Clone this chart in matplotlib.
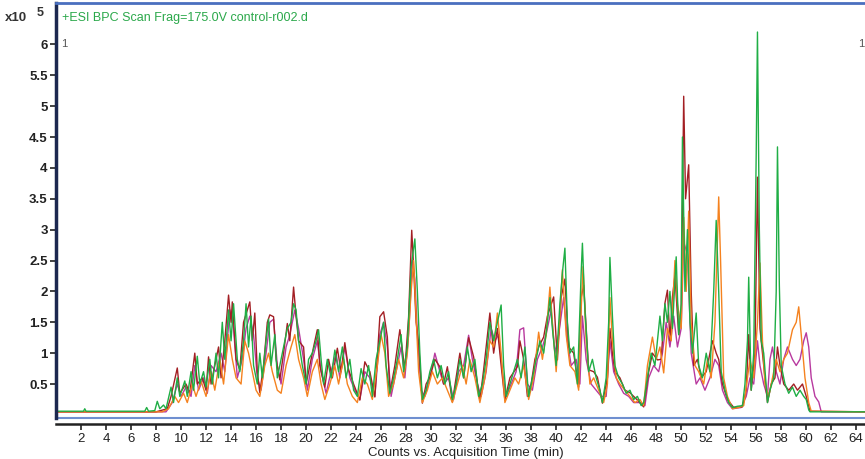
import numpy as np
import matplotlib.pyplot as plt

plt.rcParams['font.family'] = ['Liberation Sans', 'DejaVu Sans']

# Base peak chromatograms (time in min, counts in units of 1e5)
t_green = [0, 2.2, 2.3, 2.4, 7.1, 7.25, 7.4, 7.9, 8.1, 8.3, 8.6, 8.8, 9.2, 9.4, 9.7, 9.9,
           10.3, 10.5, 10.8, 11.0, 11.3, 11.5, 11.8, 12.0, 12.3, 12.5, 12.8, 13.0, 13.3,
           13.5, 13.8, 14.0, 14.2, 14.5, 14.7, 15.0, 15.2, 15.4, 15.6, 15.8, 16.1, 16.3,
           16.5, 16.8, 17.0, 17.2, 17.5, 17.7, 18.0, 18.3, 18.5, 18.8, 19.0, 19.2, 19.4,
           19.7, 20.0, 20.2, 20.5, 20.8, 21.0, 21.2, 21.4, 21.7, 22.0, 22.3, 22.6, 22.9,
           23.2, 23.5, 23.8, 24.1, 24.4, 24.7, 25.0, 25.3, 25.6, 25.9, 26.2, 26.4, 26.7,
           27.0, 27.3, 27.6, 27.8, 28.1, 28.4, 28.7, 28.9, 29.1, 29.3, 29.6, 29.9, 30.2,
           30.5, 30.8, 31.1, 31.4, 31.7, 32.0, 32.3, 32.6, 32.9, 33.2, 33.5, 33.8, 34.1,
           34.4, 34.7, 35.0, 35.3, 35.6, 35.8, 36.0, 36.3, 36.6, 36.9, 37.2, 37.5, 37.8,
           38.1, 38.4, 38.7, 39.0, 39.3, 39.5, 39.7, 40.0, 40.3, 40.5, 40.7, 40.9, 41.1,
           41.4, 41.7, 42.0, 42.1, 42.3, 42.6, 42.9, 43.2, 43.5, 43.7, 44.0, 44.2, 44.3,
           44.5, 44.7, 45.0, 45.3, 45.6, 45.9, 46.2, 46.5, 46.8, 47.0, 47.3, 47.6, 47.9,
           48.1, 48.3, 48.5, 48.7, 48.9, 49.1, 49.3, 49.6, 49.8, 50.0, 50.1, 50.3, 50.5,
           50.7, 50.9, 51.2, 51.4, 51.7, 52.0, 52.3, 52.6, 52.8, 53.0, 53.2, 53.5, 53.8,
           54.1, 54.5, 54.9, 55.1, 55.3, 55.4, 55.6, 55.8, 56.0, 56.1, 56.25, 56.4, 56.6,
           56.9, 57.1, 57.4, 57.6, 57.7, 57.85, 58.0, 58.3, 58.6, 58.9, 59.2, 59.5, 59.8,
           60.0, 60.2, 60.3, 64.7]
y_green = [0.06, 0.06, 0.1, 0.06, 0.06, 0.12, 0.06, 0.07, 0.22, 0.1, 0.16, 0.1, 0.45, 0.2,
           0.6, 0.3, 0.55, 0.3, 0.7, 0.4, 0.95, 0.5, 0.7, 0.45, 0.9, 0.5, 1.0, 0.6, 1.5,
           0.9, 1.7, 1.2, 1.8, 0.9, 0.7, 1.2, 1.8, 1.1, 1.6, 0.8, 0.5, 1.0, 0.6, 1.2, 1.55,
           0.8, 1.3, 0.6, 0.9, 1.2, 1.4, 1.5, 1.8, 1.7, 1.2, 0.8, 0.5, 0.9, 1.0, 1.2, 1.38,
           0.9, 0.5, 0.9, 0.6, 1.05, 0.7, 1.1, 0.6, 0.9, 0.4, 0.3, 0.75, 0.5, 0.8, 0.3, 0.9,
           1.2, 1.5, 0.8, 0.35, 0.6, 0.9, 1.3, 0.7, 1.1, 2.4, 2.85, 2.0, 1.0, 0.25, 0.4, 0.7,
           0.9, 0.6, 0.8, 0.5, 0.7, 0.25, 0.5, 0.9, 0.6, 1.1, 0.7, 0.9, 0.3, 0.5, 0.9, 1.5,
           1.2, 1.5, 1.78, 0.8, 0.3, 0.5, 0.7, 0.9, 0.6, 1.1, 0.3, 0.6, 0.9, 1.2, 1.0, 1.5,
           1.9, 1.4, 0.8, 1.8, 2.3, 2.7, 1.5, 1.0, 1.1, 0.5, 2.3, 2.78, 1.7, 0.7, 0.9, 0.6,
           0.4, 0.2, 0.6, 1.5, 2.55, 1.6, 0.8, 0.6, 0.5, 0.35, 0.4, 0.25, 0.3, 0.15, 0.2,
           0.6, 1.0, 0.8, 1.2, 1.6, 1.2, 1.8, 1.5, 2.0, 1.4, 2.56, 1.3, 1.8, 4.5, 2.0, 3.0,
           1.5, 1.0, 1.65, 0.8, 0.6, 1.0, 0.7, 2.0, 3.15, 2.0, 0.7, 0.4, 0.2, 0.12, 0.14,
           0.15, 0.5, 1.2, 2.23, 0.4, 1.0, 4.24, 6.2, 3.0, 1.2, 1.0, 0.2, 0.4, 0.6, 2.0,
           4.34, 2.1, 0.8, 0.5, 0.35, 0.45, 0.3, 0.4, 0.3, 0.25, 0.08, 0.05, 0.05]

t_red = [0, 8.0, 8.9, 9.2, 9.7, 9.9, 10.4, 10.7, 11.1, 11.3, 11.7, 12.0, 12.2, 12.4, 12.7,
         13.0, 13.2, 13.5, 13.8, 14.0, 14.1, 14.4, 14.7, 15.0, 15.3, 15.5, 15.7, 15.9, 16.1,
         16.3, 16.6, 16.9, 17.1, 17.4, 17.6, 17.9, 18.2, 18.5, 18.7, 19.0, 19.2, 19.4, 19.8,
         20.0, 20.3, 20.6, 20.9, 21.1, 21.5, 21.8, 22.1, 22.5, 22.8, 23.1, 23.4, 23.8, 24.3,
         24.7, 25.1, 25.5, 25.9, 26.2, 26.5, 26.7, 27.1, 27.5, 27.9, 28.2, 28.45, 28.6,
         28.8, 29.0, 29.3, 29.6, 29.9, 30.3, 30.7, 31.0, 31.3, 31.7, 32.0, 32.3, 32.6, 33.0,
         33.4, 33.9, 34.2, 34.7, 35.0, 35.3, 35.6, 35.9, 36.3, 36.9, 37.1, 37.4, 37.7, 38.0,
         38.3, 38.6, 39.0, 39.3, 39.8, 40.1, 40.4, 40.7, 41.0, 41.4, 41.8, 42.0, 42.2, 42.6,
         43.0, 43.3, 43.7, 44.1, 44.3, 44.5, 44.7, 45.1, 45.5, 45.9, 46.5, 47.0, 47.4, 47.7,
         48.1, 48.4, 48.7, 48.9, 49.1, 49.3, 49.5, 49.8, 50.0, 50.2, 50.35, 50.6, 50.8,
         51.0, 51.3, 51.6, 52.0, 52.5, 52.8, 53.0, 53.3, 53.7, 54.2, 54.9, 55.2, 55.4, 55.6,
         55.9, 56.1, 56.3, 56.6, 56.9, 57.2, 57.5, 57.7, 57.9, 58.2, 58.6, 59.0, 59.3, 59.7,
         60.0, 60.3, 64.7]
y_red = [0.05, 0.05, 0.1, 0.3, 0.76, 0.35, 0.5, 0.35, 1.0, 0.5, 0.6, 0.4, 0.94, 0.5, 0.8,
         1.1, 0.6, 1.2, 1.94, 1.5, 1.83, 0.9, 0.73, 1.5, 1.7, 1.83, 1.2, 1.65, 0.7, 0.36,
         0.8, 1.5, 1.62, 1.59, 0.9, 0.57, 1.0, 1.48, 1.2, 2.07, 1.6, 1.2, 1.1, 0.5, 0.8,
         1.1, 1.38, 0.8, 0.45, 0.9, 0.6, 1.08, 0.7, 1.17, 0.73, 0.5, 0.24, 0.86, 0.7, 0.29,
         1.59, 1.67, 1.26, 0.36, 0.8, 1.38, 0.73, 1.59, 2.99, 2.4, 1.5, 1.17, 0.19, 0.5,
         0.61, 0.9, 0.78, 0.5, 0.78, 0.21, 0.6, 1.0, 0.6, 1.25, 0.94, 0.24, 0.73, 1.65, 1.0,
         1.4, 0.8, 0.24, 0.6, 0.78, 1.2, 0.9, 0.3, 0.5, 0.9, 1.1, 1.26, 1.6, 1.91, 0.89,
         1.9, 2.2, 1.1, 1.0, 0.45, 1.9, 2.1, 0.73, 0.7, 0.61, 0.19, 0.6, 1.4, 1.0, 0.7, 0.6,
         0.4, 0.36, 0.24, 0.13, 0.7, 1.0, 0.89, 0.9, 1.81, 2.02, 1.2, 1.91, 2.26, 1.3, 1.6,
         5.16, 3.5, 4.05, 2.0, 0.8, 0.9, 0.6, 0.7, 1.2, 1.0, 0.9, 0.5, 0.25, 0.12, 0.13,
         0.4, 1.3, 0.4, 1.0, 3.85, 1.4, 0.8, 0.2, 0.5, 0.6, 1.1, 0.8, 0.5, 0.4, 0.5, 0.4,
         0.5, 0.3, 0.06, 0.05]

t_orange = [0, 8.5, 9.0, 9.5, 9.8, 10.2, 10.5, 10.9, 11.2, 11.6, 12.0, 12.4, 12.7, 13.1,
            13.4, 13.8, 14.1, 14.4, 14.8, 15.1, 15.4, 15.7, 16.0, 16.3, 16.7, 17.0, 17.3,
            17.7, 18.0, 18.4, 18.8, 19.1, 19.4, 19.8, 20.1, 20.5, 20.9, 21.2, 21.5, 21.9,
            22.3, 22.6, 23.0, 23.3, 23.7, 24.1, 24.5, 24.9, 25.3, 25.7, 26.0, 26.3, 26.6,
            27.0, 27.4, 27.8, 28.1, 28.4, 28.6, 28.8, 29.0, 29.3, 29.7, 30.1, 30.5, 30.9,
            31.3, 31.7, 32.1, 32.5, 32.8, 33.1, 33.5, 33.9, 34.3, 34.7, 35.0, 35.3, 35.6,
            35.9, 36.3, 36.7, 37.0, 37.4, 37.8, 38.2, 38.6, 38.9, 39.2, 39.5, 39.7, 40.0,
            40.3, 40.5, 40.8, 41.1, 41.5, 41.8, 42.0, 42.15, 42.4, 42.7, 43.0, 43.4, 43.8,
            44.1, 44.3, 44.5, 44.8, 45.1, 45.5, 45.9, 46.3, 46.7, 47.0, 47.3, 47.7, 48.0,
            48.3, 48.6, 48.9, 49.2, 49.5, 49.7, 50.0, 50.2, 50.4, 50.6, 50.8, 51.1, 51.4,
            51.8, 52.1, 52.4, 52.7, 53.0, 53.15, 53.4, 53.7, 54.1, 54.6, 55.0, 55.3, 55.5,
            55.8, 56.1, 56.3, 56.5, 56.7, 57.0, 57.3, 57.6, 57.9, 58.2, 58.5, 58.9, 59.2,
            59.4, 59.6, 59.9, 60.2, 60.4, 64.7]
y_orange = [0.05, 0.05, 0.1, 0.3, 0.2, 0.35, 0.2, 0.5, 0.3, 0.55, 0.3, 0.7, 0.4, 0.9, 0.5,
            1.3, 0.9, 0.6, 0.5, 1.2, 1.0, 0.7, 0.4, 0.3, 0.8, 1.0, 0.7, 0.4, 0.35, 0.8, 1.1,
            1.3, 0.9, 0.6, 0.3, 0.7, 0.9, 0.5, 0.25, 0.5, 0.8, 0.5, 0.9, 0.5, 0.3, 0.2, 0.6,
            0.5, 0.25, 0.8, 1.3, 1.0, 0.3, 0.5, 0.9, 0.6, 1.0, 2.0, 2.5, 1.6, 0.7, 0.2, 0.4,
            0.7, 0.5, 0.6, 0.4, 0.2, 0.5, 0.8, 0.5, 0.9, 0.6, 0.2, 0.6, 1.2, 1.1, 1.65, 1.0,
            0.2, 0.4, 0.6, 0.5, 0.8, 0.25, 0.6, 1.34, 0.9, 1.3, 2.07, 1.5, 0.7, 1.6, 2.35,
            1.3, 0.8, 0.7, 0.4, 1.7, 2.4, 1.2, 0.5, 0.6, 0.4, 0.2, 0.5, 1.9, 1.2, 0.6, 0.5,
            0.4, 0.3, 0.2, 0.25, 0.15, 0.8, 1.26, 0.9, 1.1, 0.68, 1.4, 1.2, 2.5, 1.8, 1.4,
            3.2, 2.0, 3.3, 1.5, 0.8, 0.7, 0.5, 0.9, 0.6, 1.5, 3.53, 2.5, 0.6, 0.3, 0.1, 0.12,
            0.15, 0.6, 0.9, 0.6, 1.5, 2.46, 1.2, 0.5, 0.3, 0.6, 0.9, 0.7, 0.9, 1.0, 1.38, 1.5,
            1.75, 1.3, 0.6, 0.2, 0.06, 0.05]

t_magenta = [0, 8.8, 9.3, 9.7, 10.0, 10.4, 10.8, 11.1, 11.4, 11.8, 12.1, 12.4, 12.8, 13.2,
             13.5, 13.9, 14.2, 14.5, 14.9, 15.2, 15.5, 15.8, 16.1, 16.4, 16.8, 17.1, 17.4,
             17.7, 18.0, 18.4, 18.7, 19.1, 19.4, 19.8, 20.1, 20.5, 20.9, 21.2, 21.6, 22.0,
             22.4, 22.7, 23.1, 23.5, 23.9, 24.3, 24.7, 25.1, 25.5, 25.9, 26.2, 26.5, 26.8,
             27.2, 27.6, 27.9, 28.2, 28.5, 28.7, 28.9, 29.2, 29.5, 29.9, 30.3, 30.7, 31.0,
             31.4, 31.8, 32.2, 32.6, 33.0, 33.3, 33.7, 34.0, 34.4, 34.8, 35.1, 35.4, 35.7,
             36.0, 36.4, 36.8, 37.1, 37.4, 37.7, 38.1, 38.5, 38.9, 39.2, 39.6, 39.9, 40.2,
             40.6, 40.9, 41.2, 41.6, 41.9, 42.1, 42.4, 42.8, 43.2, 43.6, 44.0, 44.3, 44.6,
             45.0, 45.4, 45.8, 46.2, 46.7, 47.1, 47.4, 47.8, 48.2, 48.5, 48.8, 49.1, 49.4,
             49.7, 50.0, 50.2, 50.5, 50.8, 51.2, 51.5, 51.9, 52.3, 52.7, 53.0, 53.3, 53.7,
             54.1, 54.8, 55.2, 55.5, 55.8, 56.1, 56.3, 56.6, 56.9, 57.1, 57.3, 57.6, 57.9,
             58.2, 58.5, 58.9, 59.2, 59.5, 59.8, 60.0, 60.2, 60.4, 60.7, 61.0, 61.2, 64.7]
y_magenta = [0.05, 0.05, 0.2, 0.5, 0.3, 0.45, 0.3, 0.8, 0.4, 0.6, 0.35, 0.8, 0.7, 1.0, 0.7,
             1.7, 1.4, 0.6, 0.9, 1.4, 1.6, 1.3, 0.6, 0.4, 1.0, 1.5, 1.55, 0.8, 0.5, 1.1, 1.3,
             1.7, 1.4, 0.9, 0.4, 0.9, 1.2, 0.7, 0.35, 0.7, 1.0, 0.6, 1.1, 0.6, 0.4, 0.25, 0.7,
             0.6, 0.3, 1.3, 1.5, 1.1, 0.3, 0.7, 1.1, 0.6, 1.3, 2.5, 2.2, 1.3, 0.4, 0.3, 0.6,
             1.0, 0.7, 0.5, 0.6, 0.25, 0.7, 0.8, 1.29, 0.9, 0.5, 0.3, 0.7, 1.4, 1.2, 1.3, 0.7,
             0.3, 0.5, 0.7, 1.38, 1.41, 0.5, 0.4, 0.9, 1.1, 1.3, 1.7, 1.0, 1.3, 1.9, 1.2, 0.8,
             0.9, 0.5, 1.6, 0.9, 0.5, 0.4, 0.3, 0.3, 1.2, 0.7, 0.5, 0.35, 0.3, 0.2, 0.2, 0.15,
             0.6, 0.8, 0.7, 1.0, 1.5, 1.1, 1.6, 1.1, 1.4, 2.8, 2.6, 1.0, 0.5, 0.6, 0.4, 0.6,
             0.9, 0.8, 0.4, 0.2, 0.1, 0.12, 0.3, 0.6, 0.5, 1.2, 0.8, 0.5, 0.3, 0.9, 1.1, 0.7,
             0.5, 0.9, 1.1, 0.9, 0.8, 0.9, 1.2, 1.33, 1.1, 0.6, 0.3, 0.21, 0.05, 0.05]

x_ticks = list(range(2, 66, 2))
y_ticks = [0.5, 1, 1.5, 2, 2.5, 3, 3.5, 4, 4.5, 5, 5.5, 6]
y_ticklabels = ['0.5', '1', '1.5', '2', '2.5', '3', '3.5', '4', '4.5', '5', '5.5', '6']

fig = plt.figure(figsize=(8.65, 4.59), dpi=100)
ax = fig.add_axes([56/865, 41/459, 819/865, 415/459])

ax.plot(t_magenta, y_magenta, color='#b8399f', lw=1.0)
ax.plot(t_red, y_red, color='#a31f24', lw=1.0)
ax.plot(t_orange, y_orange, color='#f5821f', lw=1.0)
ax.plot(t_green, y_green, color='#1fae45', lw=1.0)

ax.set_xlim(0, 65.5)
ax.set_ylim(-0.05, 6.67)
ax.set_xticks(x_ticks)
ax.set_yticks(y_ticks)
ax.set_yticklabels(y_ticklabels)
ax.tick_params(axis='both', direction='out', length=4, width=1.2, labelsize=9.5,
               colors='#222222', pad=2)
ax.tick_params(axis='x', pad=3)
for lab in ax.get_xticklabels() + ax.get_yticklabels():
    lab.set_fontweight('bold')

ax.spines['right'].set_visible(False)
ax.spines['top'].set_color('#4a6fbf')
ax.spines['top'].set_linewidth(2)
ax.spines['left'].set_color('#1c2850')
ax.spines['left'].set_linewidth(2.5)
ax.spines['bottom'].set_position(('outward', 4))
ax.spines['bottom'].set_color('#222222')
ax.spines['bottom'].set_linewidth(1.8)
ax.plot([0, 1], [0, 0], transform=ax.transAxes, color='#6f8fd0', lw=1.5, clip_on=False)

ax.set_xlabel('Counts vs. Acquisition Time (min)', fontsize=9.5, color='#222222',
              labelpad=1)

fig.text(5/865, 1 - 21/459, 'x10', fontsize=9.5, fontweight='bold', color='#333333')
fig.text(37/865, 1 - 16/459, '5', fontsize=9, fontweight='bold', color='#333333')
fig.text(62/865, 1 - 21/459, '+ESI BPC Scan Frag=175.0V control-r002.d', fontsize=9,
         color='#2aa84a')
fig.text(61/865, 1 - 47/459, '1', fontsize=8, color='#555555')
fig.text(858/865, 1 - 47/459, '1', fontsize=8, color='#555555')

plt.savefig('out.png', dpi=100)
